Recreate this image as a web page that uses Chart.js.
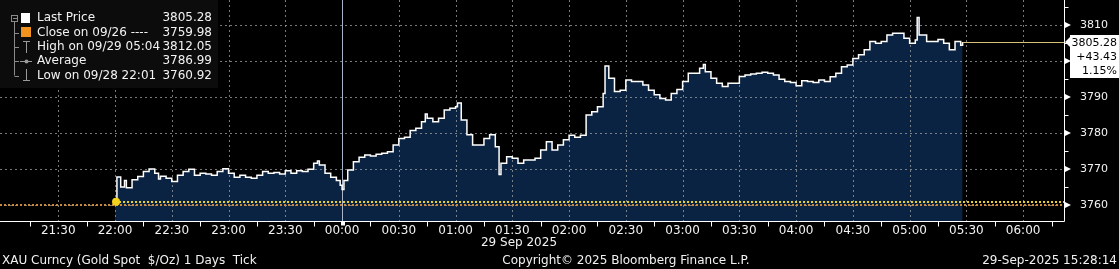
<!DOCTYPE html>
<html><head><meta charset="utf-8">
<script src="https://cdn.jsdelivr.net/npm/chart.js@4.4.1/dist/chart.umd.min.js"></script>
<style>html,body{margin:0;padding:0;background:#000;overflow:hidden}#wrap{position:relative;width:1119px;height:269px}</style>
</head><body><div id="wrap"><canvas id="c" width="1119" height="269"></canvas></div>
<script>
// ---- data (minutes after 22:00 on 28 Sep) ----
const xTickLabels = ['21:30','22:00','22:30','23:00','23:30','00:00','00:30','01:00','01:30','02:00','02:30','03:00','03:30','04:00','04:30','05:00','05:30','06:00'];
const yTickValues = [3760, 3770, 3780, 3790, 3800, 3810];
const minutes = [0,1,3,5,6,9,12,15,18,21,23,24,27,30,33,36,39,42,45,48,51,54,57,60,63,66,69,72,75,78,81,84,87,90,93,96,99,102,105,107,108,111,114,117,119,
  120,121,123,126,129,132,135,138,141,144,147,150,153,156,159,162,164,165,168,171,174,177,180,181,183,186,189,192,195,198,201,203,204,207,210,213,216,219,222,225,228,231,234,237,
  240,243,246,249,252,255,258,259,261,264,267,270,273,276,279,282,285,288,291,294,297,300,303,306,309,311,312,315,318,321,324,327,330,333,336,339,342,345,348,351,354,357,
  360,363,366,369,372,375,378,381,384,387,390,393,396,399,402,405,408,411,414,417,420,423,424,425,429,432,435,438,441,444,447,448];
const prices = [3760.92,3767.8,3765.0,3766.8,3764.8,3767.0,3767.9,3769.3,3770.0,3768.8,3767.2,3768.0,3767.4,3766.5,3768.3,3769.3,3769.9,3768.3,3768.8,3768.6,3768.3,3769.3,3770.1,3768.8,3767.7,3768.3,3767.7,3767.4,3768.3,3769.3,3768.8,3769.0,3768.6,3769.5,3768.8,3769.5,3769.3,3769.9,3771.6,3772.2,3771.1,3768.8,3767.7,3766.8,3765.5,
  3764.3,3766.8,3769.7,3772.0,3773.3,3773.9,3773.6,3774.1,3774.4,3774.8,3776.7,3778.5,3778.8,3780.7,3781.3,3783.1,3785.3,3784.1,3783.1,3784.1,3786.4,3786.9,3787.3,3788.3,3783.6,3779.5,3776.7,3776.7,3778.5,3779.5,3776.2,3768.5,3771.6,3773.4,3773.0,3771.6,3772.5,3772.5,3773.0,3775.3,3777.6,3775.3,3776.7,3778.1,
  3779.4,3778.8,3779.4,3785.0,3785.9,3787.3,3791.0,3798.6,3795.2,3791.5,3791.9,3794.7,3794.3,3794.3,3793.3,3791.9,3790.6,3789.6,3789.2,3791.0,3792.1,3794.3,3796.6,3796.6,3798.0,3799.0,3797.0,3795.2,3793.8,3792.9,3793.8,3793.8,3795.7,3796.1,3796.4,3796.6,3796.9,3796.6,3796.1,3794.9,3794.3,3794.0,
  3793.1,3794.5,3794.3,3794.0,3794.7,3794.3,3795.6,3796.6,3798.4,3798.9,3800.7,3801.7,3803.1,3805.4,3804.9,3805.4,3807.2,3807.7,3807.7,3806.3,3804.9,3805.8,3812.05,3807.2,3805.4,3805.4,3806.0,3804.9,3803.1,3805.4,3804.4,3805.28];
const dayBreakMinute = 120;          // 00:00 on 29 Sep
const closePrice = 3759.98;
const lowPrice = 3760.92, lowMinute = 0;
const lastPrice = 3805.28, netChange = '+43.43', pctChange = '1.15%';
const legendLabels = ['Last Price','Close on 09/26 ----','High on 09/29 05:04','Average','Low on 09/28 22:01'];
const legendValues = ['3805.28','3759.98','3812.05','3786.99','3760.92'];
const footerLeft = 'XAU Curncy (Gold Spot  $/Oz) 1 Days  Tick';
const footerMid = 'Copyright\u00A9 2025 Bloomberg Finance L.P.';
const footerRight = '29-Sep-2025 15:28:14';
const dateLabel = '29 Sep 2025';

// ---- helpers ----
function labelToMin(s){ const [h,m]=s.split(':').map(Number); return h>=21 ? h*60+m-1320 : h*60+m+120; }
const labelByMin = {}; xTickLabels.forEach(s=>labelByMin[labelToMin(s)]=s);
const F = '"DejaVu Sans", sans-serif';
const GRID = 'rgba(160,160,160,0.75)';
function zeroPad(s){ s.paddingTop=0; s.paddingBottom=0; s.paddingLeft=0; s.paddingRight=0; }

const refPlugin = {
  id:'refs',
  beforeDraw(chart){ const c=chart.ctx; c.save(); c.fillStyle='#000'; c.fillRect(0,0,chart.width,chart.height); c.restore(); },
  beforeDatasetDraw(chart){
    const c=chart.ctx, a=chart.chartArea, xs=chart.scales.x, ys=chart.scales.y;
    c.save(); c.strokeStyle=GRID; c.lineWidth=1; c.setLineDash([2,3]);
    yTickValues.forEach(v=>{ const y=Math.round(ys.getPixelForValue(v))+0.5; c.beginPath(); c.moveTo(a.left,y); c.lineTo(a.right,y); c.stroke(); });
    xs.ticks.forEach(t=>{ if(t.value%30!==0) return; const x=Math.round(xs.getPixelForValue(t.value))+0.5; c.beginPath(); c.moveTo(x,a.top); c.lineTo(x,a.bottom); c.stroke(); });
    c.setLineDash([]);
    const xd=Math.round(xs.getPixelForValue(dayBreakMinute))+0.5;
    c.strokeStyle='#a9b4c6'; c.beginPath(); c.moveTo(xd,a.top); c.lineTo(xd,a.bottom); c.stroke();
    c.restore();
  },
  afterDatasetsDraw(chart){
    const c=chart.ctx, a=chart.chartArea, xs=chart.scales.x, ys=chart.scales.y;
    c.save();
    let y=Math.round(ys.getPixelForValue(closePrice));
    c.setLineDash([2,2]); c.lineWidth=2; c.strokeStyle='#c98a3c';
    c.beginPath(); c.moveTo(a.left,y); c.lineTo(a.right,y); c.stroke();
    y=Math.round(ys.getPixelForValue(lowPrice));
    c.strokeStyle='#e8d233';
    c.beginPath(); c.moveTo(xs.getPixelForValue(lowMinute),y); c.lineTo(a.right,y); c.stroke();
    c.setLineDash([]);
    const lastMin = minutes[minutes.length-1];
    y=Math.round(ys.getPixelForValue(lastPrice))+0.5;
    c.strokeStyle='#d8c27a'; c.lineWidth=1;
    c.beginPath(); c.moveTo(xs.getPixelForValue(lastMin),y); c.lineTo(a.right,y); c.stroke();
    c.fillStyle='#f2d21c'; c.beginPath(); c.arc(xs.getPixelForValue(lowMinute)+1, ys.getPixelForValue(lowPrice), 4, 0, Math.PI*2); c.fill();
    // axes
    c.strokeStyle='#ffffff'; c.lineWidth=1;
    const yb=Math.round(a.bottom)+0.5, xr=Math.round(a.right)+0.5;
    c.beginPath(); c.moveTo(a.left,yb); c.lineTo(xr,yb); c.moveTo(xr,0); c.lineTo(xr,yb); c.stroke();
    xs.ticks.forEach(t=>{
      const x=Math.round(xs.getPixelForValue(t.value));
      if(t.value===dayBreakMinute){ c.fillStyle='#fff'; c.fillRect(x-1,yb,4,4); }
      else if(t.value%30!==0){ c.beginPath(); c.moveTo(x+0.5,yb); c.lineTo(x+0.5,yb+5); c.stroke(); }
    });
    ys.ticks.forEach(t=>{ if(t.value%10===0) return; const yy=Math.round(ys.getPixelForValue(t.value))+0.5; c.beginPath(); c.moveTo(xr,yy); c.lineTo(xr+4,yy); c.stroke(); });
    c.restore();
  },
  afterDraw(chart){
    const c=chart.ctx, a=chart.chartArea, ys=chart.scales.y;
    c.save();
    c.fillStyle='#fff';
    yTickValues.forEach(v=>{ const yy=ys.getPixelForValue(v); c.beginPath(); c.moveTo(a.right+1,yy-3); c.lineTo(a.right+7,yy); c.lineTo(a.right+1,yy+3); c.closePath(); c.fill(); });
    // last price box
    const yl=Math.round(ys.getPixelForValue(lastPrice));
    c.fillStyle='#fff';
    c.beginPath(); c.moveTo(a.right+1,yl); c.lineTo(a.right+7,yl-6); c.lineTo(a.right+7,yl+6); c.closePath(); c.fill();
    c.fillRect(a.right+6, yl-7, chart.width-(a.right+6), 43);
    c.fillStyle='#000'; c.font='11px '+F; c.textAlign='right'; c.textBaseline='middle';
    c.fillText(lastPrice.toFixed(2), chart.width-2, yl+1);
    c.fillText(netChange, chart.width-2, yl+15);
    c.fillText(pctChange, chart.width-2, yl+29);
    // legend panel
    c.fillStyle='#0c0c0c'; c.fillRect(0,0,218,88);
    c.font='12px '+F; c.textBaseline='middle';
    const rows=[18,32.5,47,61,75.5];
    c.strokeStyle='#8a8a8a'; c.lineWidth=1;
    c.strokeRect(11.5,15.5,6,6); c.beginPath(); c.moveTo(13,18.5); c.lineTo(17,18.5); c.stroke();
    c.beginPath(); c.moveTo(14.5,22); c.lineTo(14.5,rows[4]); c.stroke();
    for(let i=1;i<5;i++){ c.beginPath(); c.moveTo(14.5,Math.round(rows[i])+0.5); c.lineTo(19,Math.round(rows[i])+0.5); c.stroke(); }
    c.fillStyle='#fff'; c.fillRect(21,13,9,10);
    c.fillStyle='#f0921e'; c.fillRect(21,27,10,10);
    c.strokeStyle='#9a9a9a';
    c.beginPath(); c.moveTo(23,41.5); c.lineTo(30,41.5); c.moveTo(26.5,41.5); c.lineTo(26.5,53); c.stroke();
    c.beginPath(); c.moveTo(20,61.5); c.lineTo(32,61.5); c.stroke(); c.fillStyle='#9a9a9a'; c.beginPath(); c.arc(26.5,61.5,2,0,Math.PI*2); c.fill();
    c.beginPath(); c.moveTo(26.5,69); c.lineTo(26.5,80.5); c.moveTo(23,80.5); c.lineTo(30,80.5); c.stroke();
    c.fillStyle='#f2f2f2';
    legendLabels.forEach((t,i)=>{ c.textAlign='left'; c.fillText(t,37,rows[i]); c.textAlign='right'; c.fillText(legendValues[i],212,rows[i]); });
    // date + footer
    c.fillStyle='#f2f2f2'; c.font='12px '+F; c.textAlign='center';
    c.fillText(dateLabel, 519, 243);
    c.textAlign='left'; c.fillText(footerLeft, 2, 261);
    c.textAlign='center'; c.fillText(footerMid, 626, 261);
    c.textAlign='right'; c.fillText(footerRight, 1117, 261);
    c.restore();
  }
};

new Chart(document.getElementById('c').getContext('2d'), {
  type:'line',
  data:{ datasets:[{
    data: minutes.map((m,i)=>({x:m,y:prices[i]})),
    stepped:true, borderColor:'#ffffff', borderWidth:1.5, pointRadius:0,
    fill:'start', backgroundColor:'#0b2342'
  }]},
  options:{
    responsive:false, animation:false, devicePixelRatio:1,
    layout:{padding:0, autoPadding:false},
    plugins:{legend:{display:false}, tooltip:{enabled:false}},
    scales:{
      x:{ type:'linear', position:'bottom', min:-60.8, max:501.6,
        afterBuildTicks(s){ const t=[]; for(let v=-45; v<=495; v+=15) t.push({value:v}); s.ticks=t; },
        afterFit(s){ s.height=48; zeroPad(s); },
        ticks:{ autoSkip:false, maxRotation:0, padding:-5, color:'#f2f2f2', font:{family:F,size:12},
          callback:(v)=> (v%30===0 && labelByMin[v]) ? labelByMin[v] : '' },
        grid:{ display:false }, border:{ display:false }
      },
      y:{ type:'linear', position:'right', min:3755.56, max:3816.94,
        afterBuildTicks(s){ const t=[]; for(let v=3760; v<=3815; v+=5) t.push({value:v}); s.ticks=t; },
        afterFit(s){ s.width=55; zeroPad(s); },
        ticks:{ padding:8, color:'#f2f2f2', font:{family:F,size:11},
          callback:(v)=> yTickValues.includes(v) ? String(v) : '' },
        grid:{ display:false }, border:{ display:false }
      }
    }
  },
  plugins:[refPlugin]
});
</script></body></html>
